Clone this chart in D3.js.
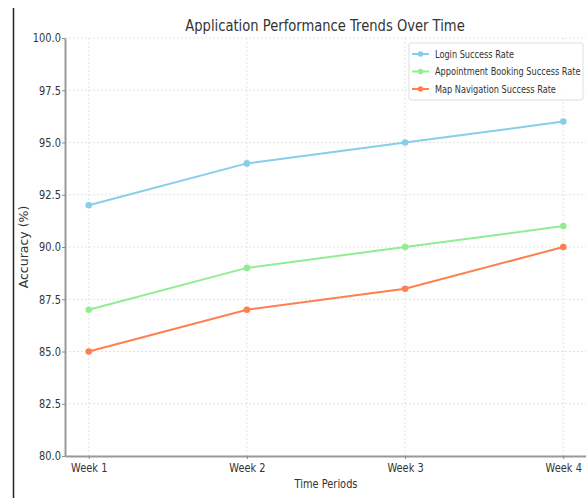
<!DOCTYPE html>
<html>
<head>
<meta charset="utf-8">
<script src="https://cdn.jsdelivr.net/npm/d3@7"></script>
<style>
    body { margin: 0; background: #fff; overflow: hidden; }
    #chart text { font-family: "DejaVu Sans", sans-serif; }
</style>
</head>
<body>
<div id="chart"></div>
<script>
// Application performance chart

const weeks = ['Week 1', 'Week 2', 'Week 3', 'Week 4'];
const loginRate = [92, 94, 95, 96];
const bookingRate = [87, 89, 90, 91];
const mapRate = [85, 87, 88, 90];
const yTicks = [80, 82.5, 85, 87.5, 90, 92.5, 95, 97.5, 100];

const seriesList = [
    { name: 'Login Success Rate', values: loginRate, color: '#87CEEB' },
    { name: 'Appointment Booking Success Rate', values: bookingRate, color: '#90EE90' },
    { name: 'Map Navigation Success Rate', values: mapRate, color: '#FF7F50' }
];

// the source picture is squeezed sideways, so horizontal text runs narrow
const SQUEEZE = 0.82;

function squeeze(sel) {
    sel.each(function () {
        const t = d3.select(this);
        const tx = +t.attr('x') || 0;
        const ty = +t.attr('y') || 0;
        t.attr('x', 0).attr('y', 0)
            .attr('transform', `translate(${tx},${ty}) scale(${SQUEEZE},1)`);
    });
}

function drawChart() {
    const W = 586, H = 498;
    const margin = { top: 38, right: 0, bottom: 42, left: 65 };
    const width = W - margin.left - margin.right + 1;
    const height = H - margin.top - margin.bottom;

    const root = d3.select('#chart').append('svg')
        .attr('width', W)
        .attr('height', H);

    // stray border line on the left of the picture
    root.append('line')
        .attr('x1', 13.5).attr('x2', 13.5)
        .attr('y1', 8).attr('y2', H)
        .attr('stroke', '#222')
        .attr('stroke-width', 1.5);

    const svg = root.append('g')
        .attr('transform', `translate(${margin.left},${margin.top})`);

    const x = d3.scaleLinear()
        .domain([-0.15, 3.15])
        .range([0, width]);

    const y = d3.scaleLinear()
        .domain([80, 100])
        .range([height, 0]);

    // Grid
    svg.append('g')
        .selectAll('line')
        .data(yTicks)
        .enter()
        .append('line')
        .attr('x1', 0).attr('x2', width)
        .attr('y1', d => y(d)).attr('y2', d => y(d))
        .attr('stroke', '#ddd')
        .attr('stroke-width', 0.8)
        .attr('stroke-dasharray', '2,2');

    svg.append('g')
        .selectAll('line')
        .data(weeks)
        .enter()
        .append('line')
        .attr('x1', (d, i) => x(i)).attr('x2', (d, i) => x(i))
        .attr('y1', 0).attr('y2', height)
        .attr('stroke', '#ddd')
        .attr('stroke-width', 0.8)
        .attr('stroke-dasharray', '2,2');

    // Axes
    const xAxis = svg.append('g')
        .attr('transform', `translate(0,${height})`)
        .call(d3.axisBottom(x)
            .tickValues(d3.range(weeks.length))
            .tickFormat(i => weeks[i])
            .tickSize(3)
            .tickSizeOuter(0));

    const yAxis = svg.append('g')
        .call(d3.axisLeft(y)
            .tickValues(yTicks)
            .tickFormat(d3.format('.1f'))
            .tickSize(3)
            .tickSizeOuter(0));

    [xAxis, yAxis].forEach(ax => {
        ax.select('.domain').attr('stroke', '#999').attr('stroke-width', 2);
        ax.selectAll('.tick line').attr('stroke', '#888');
        ax.selectAll('.tick text')
            .attr('fill', '#333')
            .attr('font-size', '12px');
    });
    xAxis.selectAll('.tick text').attr('dy', '0.85em').call(squeeze);
    yAxis.selectAll('.tick text').attr('x', -4).call(squeeze);

    // Lines and points
    const line = d3.line()
        .x((d, i) => x(i))
        .y(d => y(d));

    seriesList.forEach(s => {
        svg.append('path')
            .datum(s.values)
            .attr('fill', 'none')
            .attr('stroke', s.color)
            .attr('stroke-width', 2)
            .attr('d', line);

        svg.selectAll(null)
            .data(s.values)
            .enter()
            .append('circle')
            .attr('cx', (d, i) => x(i))
            .attr('cy', d => y(d))
            .attr('r', 3.3)
            .attr('fill', s.color);
    });

    // Title and labels
    root.append('text')
        .attr('x', 325)
        .attr('y', 31)
        .attr('text-anchor', 'middle')
        .attr('fill', '#333')
        .attr('font-size', '16px')
        .text('Application Performance Trends Over Time')
        .call(squeeze);

    root.append('text')
        .attr('x', 326)
        .attr('y', 488)
        .attr('text-anchor', 'middle')
        .attr('fill', '#333')
        .attr('font-size', '12px')
        .text('Time Periods')
        .call(squeeze);

    root.append('text')
        .attr('transform', 'rotate(-90)')
        .attr('x', -247)
        .attr('y', 28)
        .attr('text-anchor', 'middle')
        .attr('fill', '#333')
        .attr('font-size', '12.5px')
        .text('Accuracy (%)');

    // Legend
    const legend = root.append('g')
        .attr('transform', 'translate(409,43)');

    legend.append('rect')
        .attr('width', 174)
        .attr('height', 57)
        .attr('rx', 2)
        .attr('fill', '#fff')
        .attr('fill-opacity', 0.9)
        .attr('stroke', '#ddd');

    seriesList.forEach((s, i) => {
        const row = legend.append('g')
            .attr('transform', `translate(0,${11 + i * 17.5})`);
        row.append('line')
            .attr('x1', 3).attr('x2', 20)
            .attr('stroke', s.color)
            .attr('stroke-width', 2);
        row.append('circle')
            .attr('cx', 11.5)
            .attr('r', 2.8)
            .attr('fill', s.color);
        row.append('text')
            .attr('x', 26)
            .attr('dy', '0.35em')
            .attr('fill', '#333')
            .attr('font-size', '10px')
            .text(s.name)
            .call(squeeze);
    });
}

drawChart();
</script>
</body>
</html>
